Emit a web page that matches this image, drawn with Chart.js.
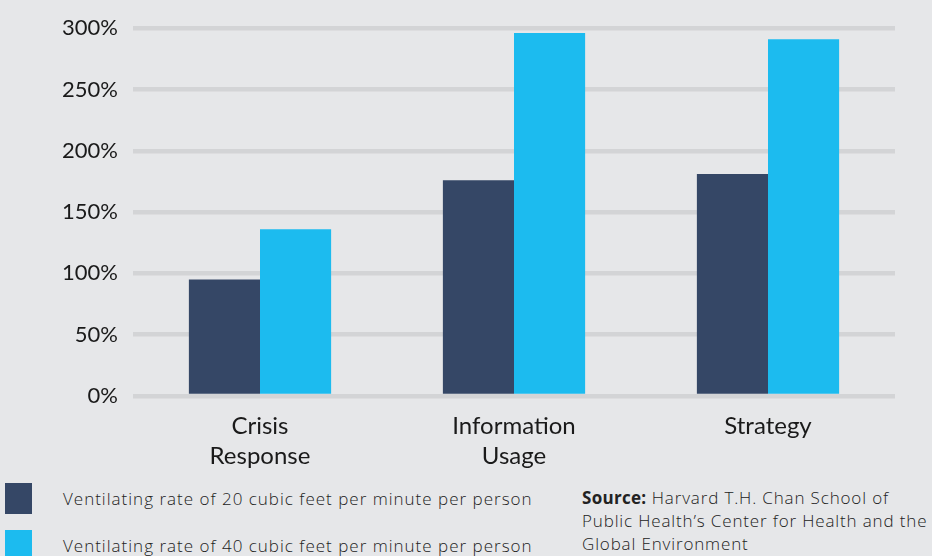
<!DOCTYPE html>
<html>
<head>
<meta charset="utf-8">
<script src="https://cdn.jsdelivr.net/npm/chart.js@4/dist/chart.umd.min.js"></script>
<style>
  html, body { margin: 0; padding: 0; background: #e6e7e9; }
  body { width: 932px; height: 556px; position: relative; overflow: hidden; font-family: "Open Sans", sans-serif; }
  #wrap { position: absolute; left: 0; top: 0; width: 932px; height: 480px; }
  .legend-item { position: absolute; left: 5px; display: flex; align-items: center; }
  .swatch { width: 27px; height: 31px; margin-right: 31px; }
  .legend-item span { font-size: 17px; font-weight: 300; color: #222; letter-spacing: 1px; }
  #source { position: absolute; left: 582px; top: 486px; font-size: 17px; line-height: 23px; color: #222; font-weight: 300; white-space: nowrap; letter-spacing: 0.85px; }
  #source b { font-weight: 700; letter-spacing: 0.3px; }
</style>
</head>
<body>
<div id="wrap"><canvas id="chart"></canvas></div>

<div class="legend-item" style="top:483px"><div class="swatch" style="background:#354766"></div><span id="leg0"></span></div>
<div class="legend-item" style="top:530px"><div class="swatch" style="background:#1cbbef"></div><span id="leg1"></span></div>
<div id="source"><b>Source:</b> Harvard T.H. Chan School of<br>Public Health’s Center for Health and the<br>Global Environment</div>

<script>
const categories = [['Crisis', 'Response'], ['Information', 'Usage'], 'Strategy'];
const seriesNames = [
    'Ventilating rate of 20 cubic feet per minute per person',
    'Ventilating rate of 40 cubic feet per minute per person'
];
const rate20 = [95, 176, 181];
const rate40 = [136, 296, 291];
const seriesColors = ['#354766', '#1cbbef'];

document.getElementById('leg0').textContent = seriesNames[0];
document.getElementById('leg1').textContent = seriesNames[1];

const ctx = document.getElementById('chart').getContext('2d');
new Chart(ctx, {
    type: 'bar',
    data: {
        labels: categories,
        datasets: [
            { label: seriesNames[0], data: rate20, backgroundColor: seriesColors[0] },
            { label: seriesNames[1], data: rate40, backgroundColor: seriesColors[1] }
        ]
    },
    options: {
        responsive: true,
        maintainAspectRatio: false,
        animation: false,
        layout: { padding: { top: 23, right: 37, left: 0, bottom: 0 } },
        datasets: { bar: { categoryPercentage: 0.56, barPercentage: 1 } },
        plugins: { legend: { display: false }, tooltip: { enabled: false } },
        scales: {
            x: {
                grid: { display: false },
                border: { display: false },
                ticks: {
                    color: '#1a1a1a',
                    font: { family: 'Lato', size: 24, weight: 400, lineHeight: 1.25 },
                    padding: 7,
                    maxRotation: 0
                },
                afterFit: (scale) => { scale.height = 84; }
            },
            y: {
                min: 0,
                max: 300,
                border: { display: false },
                grid: { color: '#d3d4d6', lineWidth: 4.5, drawTicks: false },
                ticks: {
                    stepSize: 50,
                    color: '#1a1a1a',
                    padding: 15,
                    font: { family: 'Lato', size: 22, weight: 400 },
                    callback: (v) => v + '%'
                },
                afterFit: (scale) => { scale.width = 133; }
            }
        }
    }
});
</script>
</body>
</html>
